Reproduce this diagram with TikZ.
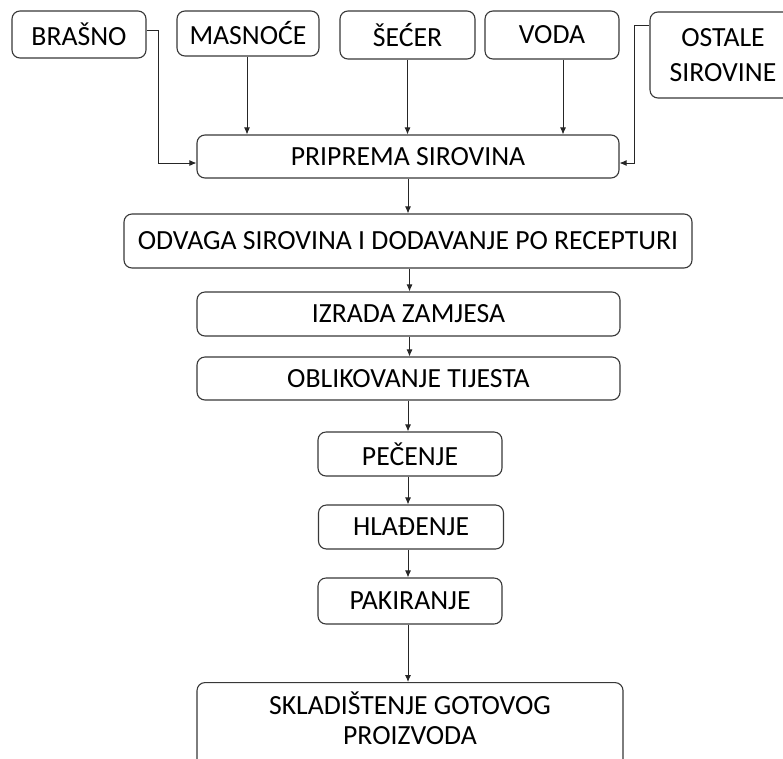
\documentclass[tikz,border=0pt]{standalone}
\usepackage{fontspec}
\setmainfont{Carlito}
\usetikzlibrary{arrows.meta,calc}
\begin{document}
\begin{tikzpicture}[x=1pt,y=-1pt,
  box/.style={draw=black!78,line width=1.1pt,rounded corners=8pt,inner sep=0pt,
    font=\fontsize{27.7}{35}\selectfont,text=black,align=center},
  txt/.style={inner sep=0pt,font=\fontsize{27.7}{30}\selectfont,text=black,align=center},
  arr/.style={draw=black!85,line width=0.9pt,-{Latex[length=7pt,width=6pt]}}]
\useasboundingbox (0,0) rectangle (783,758);
% top inputs
\node[box,minimum width=134pt,minimum height=47pt] (brasno) at (79,34.5) {BRAŠNO};
\node[box,minimum width=142pt,minimum height=45pt] (masnoce) at (248,33.5) {MASNOĆE};
\node[box,minimum width=135pt,minimum height=48pt] (secer) at (407.5,35) {ŠEĆER};
\node[box,minimum width=134pt,minimum height=48pt] (voda) at (552,35) {VODA};
\node[box,minimum width=146pt,minimum height=86pt] (ostale) at (723,55) {OSTALE\\SIROVINE};
% main chain
\node[box,minimum width=422pt,minimum height=43pt] (priprema) at (408,156.5) {PRIPREMA SIROVINA};
\node[box,minimum width=568pt,minimum height=54pt] (odvaga) at (408,241) {ODVAGA SIROVINA I DODAVANJE PO RECEPTURI};
\node[box,minimum width=423pt,minimum height=44pt] (izrada) at (408.5,314) {IZRADA ZAMJESA};
\node[box,minimum width=423pt,minimum height=43pt] (oblik) at (408.5,378.5) {OBLIKOVANJE TIJESTA};
\node[box,minimum width=184pt,minimum height=44pt] (pecenje) at (410,454) {PEČENJE};
\node[box,minimum width=185pt,minimum height=44pt] (hladenje) at (411,527) {HLAĐENJE};
\node[box,minimum width=184pt,minimum height=46pt] (pakiranje) at (410,601) {PAKIRANJE};
\node[box,minimum width=426pt,minimum height=100pt,anchor=north] (sklad) at (410,682) {};
\node[txt] (skladtxt) at (410,718.5) {SKLADIŠTENJE GOTOVOG\\PROIZVODA};
% connectors from inputs
\draw[arr] ([yshift=4.5pt]brasno.east) -- ++(12,0) |- ([yshift=-6.5pt]priprema.west);
\draw[arr] ([xshift=-1pt]masnoce.south) -- ([xshift=-1pt]masnoce.south |- priprema.north);
\draw[arr] (secer.south) -- (secer.south |- priprema.north);
\draw[arr] ([xshift=11pt]voda.south) -- ([xshift=11pt]voda.south |- priprema.north);
\draw[arr] ([yshift=30pt]ostale.west) -- ++(-15,0) |- ([yshift=-6.5pt]priprema.east);
% chain connectors
\draw[arr] (priprema.south) -- (priprema.south |- odvaga.north);
\draw[arr] ([xshift=1.5pt]odvaga.south) -- ([xshift=1.5pt]odvaga.south |- izrada.north);
\draw[arr] ([xshift=1pt]izrada.south) -- ([xshift=1pt]izrada.south |- oblik.north);
\draw[arr] ([xshift=-0.5pt]oblik.south) -- ([xshift=-0.5pt]oblik.south |- pecenje.north);
\draw[arr] ([xshift=-2pt]pecenje.south) -- ([xshift=-2pt]pecenje.south |- hladenje.north);
\draw[arr] ([xshift=-2pt]hladenje.south -| pakiranje.north) -- ([xshift=-2pt]pakiranje.north);
\draw[arr] ([xshift=-2pt]pakiranje.south) -- ([xshift=-2pt]pakiranje.south |- sklad.north);
\end{tikzpicture}
\end{document}
